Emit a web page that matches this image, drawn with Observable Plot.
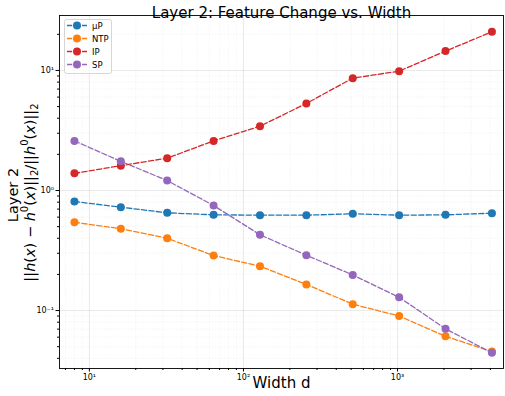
<!DOCTYPE html>
<html><head><meta charset="utf-8">
<script src="https://cdn.jsdelivr.net/npm/d3@7"></script>
<script src="https://cdn.jsdelivr.net/npm/@observablehq/plot@0.6"></script>
<style>body{margin:0;background:#fff;font-family:"DejaVu Sans",sans-serif;} svg{display:block}</style>
</head><body><div id="chart"></div>
<script>
const widths = [8, 16, 32, 64, 128, 256, 512, 1024, 2048, 4096];
const seriesNames = ["μP", "NTP", "IP", "SP"];
const colors = ["#1f77b4", "#ff7f0e", "#d62728", "#9467bd"];
const muP = [0.81, 0.726, 0.652, 0.627, 0.623, 0.623, 0.64, 0.623, 0.627, 0.647];
const NTP = [0.544, 0.480, 0.400, 0.287, 0.234, 0.165, 0.113, 0.090, 0.061, 0.0455];
const IP = [1.39, 1.61, 1.86, 2.59, 3.43, 5.31, 8.63, 9.87, 14.5, 21.0];
const SP = [2.59, 1.75, 1.21, 0.75, 0.428, 0.289, 0.198, 0.129, 0.0704, 0.0444];
const xMajor = [10, 100, 1000];
const xMinor = [7,8,9,20,30,40,50,60,70,80,90,200,300,400,500,600,700,800,900,2000,3000,4000];
const yMajor = [0.1, 1, 10];
const yMinor = [0.04,0.05,0.06,0.07,0.08,0.09,0.2,0.3,0.4,0.5,0.6,0.7,0.8,0.9,2,3,4,5,6,7,8,9,20];
const expLabels = {"0.1": "10⁻¹", "1": "10⁰", "10": "10¹", "100": "10²", "1000": "10³"};

const allSeries = [muP, NTP, IP, SP];
const rows = [];
allSeries.forEach((vals, i) => vals.forEach((v, j) => rows.push({series: seriesNames[i], w: widths[j], v})));

const dash = "5.2,2.3";
const gridMajor = {stroke: "#b0b0b0", strokeOpacity: 0.35, strokeWidth: 0.8};
const gridMinor = {stroke: "#b0b0b0", strokeOpacity: 0.25, strokeWidth: 0.5, strokeDasharray: "1.5,1.5"};

const marks = [
  Plot.gridX(xMinor, gridMinor),
  Plot.gridY(yMinor, gridMinor),
  Plot.gridX(xMajor, gridMajor),
  Plot.gridY(yMajor, gridMajor),
];
seriesNames.forEach((s, i) => {
  const d = rows.filter(r => r.series === s);
  marks.push(Plot.line(d, {x: "w", y: "v", stroke: colors[i], strokeWidth: 1.3, strokeDasharray: dash}));
  marks.push(Plot.dot(d, {x: "w", y: "v", fill: colors[i], r: 4}));
});
marks.push(
  Plot.axisX(xMajor, {tickSize: 3.5, tickFormat: d => expLabels[String(d)], fontSize: 8, label: null, tickPadding: 2}),
  Plot.axisX(xMinor, {tickSize: 2, tickFormat: () => "", label: null}),
  Plot.axisY(yMajor, {tickSize: 3.5, tickFormat: d => expLabels[String(d)], fontSize: 8, label: null, tickPadding: 2}),
  Plot.axisY(yMinor, {tickSize: 2, tickFormat: () => "", label: null}),
  Plot.frame({stroke: "#000", strokeWidth: 0.9}),
  Plot.text(["Layer 2: Feature Change vs. Width"], {frameAnchor: "top", dy: -8, fontSize: 15, fill: "#000"}),
  Plot.text(["Width d"], {frameAnchor: "bottom", dy: 19, fontSize: 15, fill: "#000"})
);

const chart = Plot.plot({
  width: 505, height: 396,
  marginLeft: 59, marginRight: 2, marginTop: 15, marginBottom: 28,
  style: {fontFamily: "DejaVu Sans, sans-serif", background: "#fff", color: "#000"},
  x: {type: "log", domain: [6.4, 4870]},
  y: {type: "log", domain: [0.0329, 28.7]},
  marks
});
document.getElementById("chart").appendChild(chart);

const svg = d3.select(chart);
// y labels
svg.append("text")
  .attr("transform", "translate(18,195) rotate(-90)")
  .attr("text-anchor", "middle")
  .attr("font-size", 14.5).attr("font-family", "DejaVu Sans, sans-serif").attr("fill", "#000")
  .text("Layer 2");
const t = svg.append("text")
  .attr("transform", "translate(34.5,192.5) rotate(-90)")
  .attr("text-anchor", "middle")
  .attr("font-size", 14.5).attr("font-family", "DejaVu Sans, sans-serif").attr("fill", "#000");
const parts = [["||"], ["h","i"], ["("], ["x","i"], [") − "], ["h","i"], ["0","sup"], ["("], ["x","i"], [")||"], ["2","sub"], ["/||"], ["h","i"], ["0","sup"], ["("], ["x","i"], [")||"], ["2","sub"]];
const SUP = -6.5, SUB = 3;
parts.forEach(([s, k], i) => {
  const ts = t.append("tspan").text(s);
  const prev = i > 0 ? parts[i-1][1] : null;
  let dy = 0;
  if (k === "sup") dy = SUP; else if (k === "sub") dy = SUB;
  if (prev === "sup") dy -= SUP; else if (prev === "sub") dy -= SUB;
  if (k === "i") ts.attr("font-style", "italic");
  if (k === "sup" || k === "sub") ts.attr("font-size", 10);
  ts.attr("dy", dy);
});

// legend
const lg = svg.append("g").attr("font-family", "DejaVu Sans, sans-serif").attr("text-anchor", "start");
lg.append("rect").attr("x", 64.5).attr("y", 19.5).attr("width", 47).attr("height", 54).attr("rx", 2)
  .attr("fill", "#fff").attr("fill-opacity", 0.8).attr("stroke", "#ccc").attr("stroke-width", 0.8);
seriesNames.forEach((s, i) => {
  const yy = 25.5 + i * 13;
  lg.append("line").attr("x1", 67).attr("x2", 87).attr("y1", yy).attr("y2", yy)
    .attr("stroke", colors[i]).attr("stroke-width", 1.3).attr("stroke-dasharray", dash);
  lg.append("circle").attr("cx", 77).attr("cy", yy).attr("r", 4).attr("fill", colors[i]);
  lg.append("text").attr("x", 92).attr("y", yy + 3).attr("text-anchor", "start")
    .attr("font-size", 8.5).attr("fill", "#000").text(s);
});
</script></body></html>
